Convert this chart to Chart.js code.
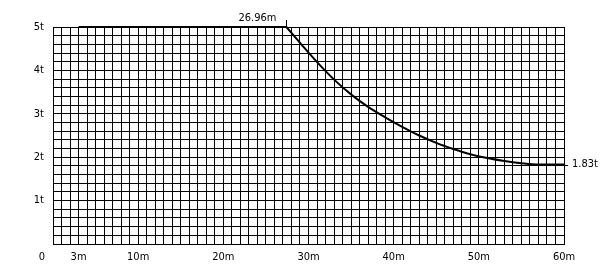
<!DOCTYPE html>
<html>
<head>
<meta charset="utf-8">
<script src="https://cdn.jsdelivr.net/npm/chart.js@4"></script>
<style>
html,body{margin:0;padding:0;background:#fff;}
#wrap{width:616px;height:278px;position:relative;}
</style>
</head>
<body>
<div id="wrap"><canvas id="c" width="616" height="278"></canvas></div>
<script>
// Working radius (m) and rated load (t)
const radius = [3, 27.4, 29.2, 31.2, 33.1, 35.1, 37.0, 39.0, 41.0, 43.0, 45.0, 47.0, 49.0, 51.0, 53.0, 55.0, 57.0, 60];
const load   = [5, 5, 4.59, 4.15, 3.77, 3.43, 3.16, 2.92, 2.70, 2.50, 2.33, 2.19, 2.07, 1.98, 1.91, 1.86, 1.83, 1.83];

const xTickValues = [3, 10, 20, 30, 40, 50, 60];
const xTickLabels = ['3m', '10m', '20m', '30m', '40m', '50m', '60m'];
const yTickValues = [1, 2, 3, 4, 5];
const yTickLabels = ['1t', '2t', '3t', '4t', '5t'];
const originLabel = '0';
const breakLabel = '26.96m';
const endLabel = '1.83t';

const FONT = "'Liberation Sans Narrow','DejaVu Sans Condensed','Liberation Sans',sans-serif";

const points = radius.map((r, i) => ({x: r, y: load[i]}));
const flatPart = points.slice(0, 2);
const curvePart = points.slice(1);

const annotate = {
  id: 'annotate',
  afterDatasetsDraw(chart) {
    const ctx = chart.ctx;
    const xs = chart.scales.x, ys = chart.scales.y;
    ctx.save();
    ctx.fillStyle = '#000';
    ctx.strokeStyle = '#000';
    ctx.font = '11px ' + FONT;
    ctx.textBaseline = 'middle';
    ctx.textAlign = 'center';
    ctx.fillText(originLabel, xs.left - 11, ys.bottom + 13);
    const bx = xs.getPixelForValue(radius[1]);
    const by = ys.getPixelForValue(load[1]);
    ctx.lineWidth = 1;
    ctx.beginPath();
    ctx.moveTo(Math.round(bx) + 0.5, by - 7);
    ctx.lineTo(Math.round(bx) + 0.5, by);
    ctx.stroke();
    ctx.textAlign = 'right';
    ctx.fillText(breakLabel, bx - 10, by - 9);
    const ex = xs.getPixelForValue(radius[radius.length - 1]);
    const ey = ys.getPixelForValue(load[load.length - 1]);
    ctx.beginPath();
    ctx.moveTo(ex, Math.round(ey) + 0.5);
    ctx.lineTo(ex + 4, Math.round(ey) + 0.5);
    ctx.stroke();
    ctx.textAlign = 'left';
    ctx.fillText(endLabel, ex + 8, ey);
    ctx.restore();
  }
};

const lineStyle = {borderColor: '#000', borderWidth: 2, pointRadius: 0, fill: false, clip: false};

new Chart(document.getElementById('c'), {
  type: 'line',
  data: {
    datasets: [
      Object.assign({data: flatPart, tension: 0}, lineStyle),
      Object.assign({data: curvePart, cubicInterpolationMode: 'monotone'}, lineStyle)
    ]
  },
  options: {
    responsive: false,
    animation: false,
    layout: {padding: {top: 27, right: 52, left: 0, bottom: 0}},
    plugins: {legend: {display: false}, tooltip: {enabled: false}},
    scales: {
      x: {
        type: 'linear',
        min: 0, max: 60,
        afterFit(s) { s.height = 34; },
        afterBuildTicks(s) { const t = []; for (let v = 0; v <= 60; v++) t.push({value: v}); s.ticks = t; },
        grid: {color: '#000', lineWidth: 1, drawTicks: false},
        border: {color: '#000', width: 1},
        ticks: {
          autoSkip: false, maxRotation: 0, padding: 7, color: '#000',
          font: {family: FONT, size: 11},
          callback(v) { const i = xTickValues.indexOf(v); return i >= 0 ? xTickLabels[i] : ''; }
        }
      },
      y: {
        type: 'linear',
        min: 0, max: 5,
        afterFit(s) { s.width = 53; },
        afterBuildTicks(s) { const t = []; for (let k = 0; k <= 25; k++) t.push({value: k / 5}); s.ticks = t; },
        grid: {color: '#000', lineWidth: 1, drawTicks: false},
        border: {color: '#000', width: 1},
        ticks: {
          autoSkip: false, padding: 9, color: '#000',
          font: {family: FONT, size: 11},
          callback(v) { const i = yTickValues.findIndex(t => Math.abs(t - v) < 1e-6); return i >= 0 ? yTickLabels[i] : ''; }
        }
      }
    }
  },
  plugins: [annotate]
});
</script>
</body>
</html>
